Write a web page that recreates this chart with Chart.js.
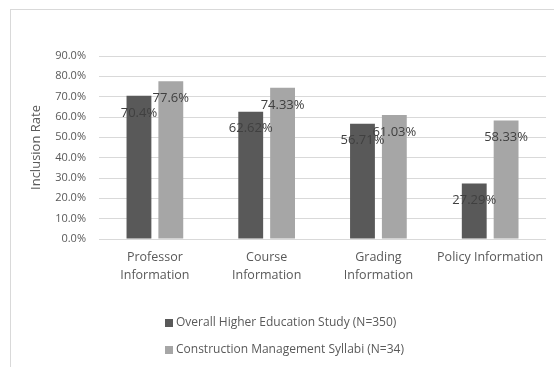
<!DOCTYPE html>
<html>
<head>
<meta charset="utf-8">
<script src="https://cdn.jsdelivr.net/npm/chart.js@4"></script>
<style>
  html, body { margin: 0; padding: 0; background: #fff; }
  #wrap { width: 554px; height: 367px; position: relative; }
</style>
</head>
<body>
<div id="wrap"><canvas id="rateChart"></canvas></div>
<script>
const categories = [['Professor', 'Information'], ['Course', 'Information'], ['Grading', 'Information'], 'Policy Information'];
const overallLabel = 'Overall Higher Education Study (N=350)';
const syllabiLabel = 'Construction Management Syllabi (N=34)';
const overallRates = [70.4, 62.62, 56.71, 27.29];
const syllabiRates = [77.6, 74.33, 61.03, 58.33];
const yTicks = [0, 10, 20, 30, 40, 50, 60, 70, 80, 90];

const FONT = "'Open Sans', 'DejaVu Sans', sans-serif";
const TEXT = '#595959';

// frame around the chart (only top/left edges show in the picture)
const framePlugin = {
    id: 'frame',
    beforeDraw(chart) {
        const ctx = chart.ctx;
        ctx.save();
        ctx.fillStyle = '#fff';
        ctx.fillRect(0, 0, chart.width, chart.height);
        ctx.strokeStyle = '#d9d9d9';
        ctx.lineWidth = 1;
        ctx.strokeRect(10.5, 9.5, 600, 400);
        ctx.restore();
    }
};

// value labels, a bit below the bar top
const valueLabels = {
    id: 'valueLabels',
    afterDatasetsDraw(chart) {
        const ctx = chart.ctx;
        ctx.save();
        ctx.font = '13px ' + FONT;
        ctx.fillStyle = '#404040';
        ctx.textAlign = 'center';
        ctx.textBaseline = 'middle';
        chart.data.datasets.forEach((ds, i) => {
            chart.getDatasetMeta(i).data.forEach((bar, j) => {
                ctx.fillText(String(ds.data[j]) + '%', bar.x, bar.y + 17);
            });
        });
        ctx.restore();
    }
};

// legend: one entry per row, left aligned
const stackedLegend = {
    id: 'stackedLegend',
    afterDraw(chart) {
        const ctx = chart.ctx;
        ctx.save();
        ctx.font = '12px ' + FONT;
        ctx.textBaseline = 'middle';
        ctx.textAlign = 'left';
        const rows = [323, 350];
        chart.data.datasets.forEach((ds, i) => {
            const y = rows[i];
            ctx.fillStyle = ds.backgroundColor;
            ctx.fillRect(165, y - 4, 8, 8);
            ctx.fillStyle = TEXT;
            ctx.fillText(ds.label, 176, y);
        });
        ctx.restore();
    }
};

new Chart(document.getElementById('rateChart'), {
    type: 'bar',
    data: {
        labels: categories,
        datasets: [
            { label: overallLabel, data: overallRates, backgroundColor: '#595959' },
            { label: syllabiLabel, data: syllabiRates, backgroundColor: '#a6a6a6' }
        ]
    },
    options: {
        responsive: true, maintainAspectRatio: false, animation: false,
        categoryPercentage: 0.57, barPercentage: 0.78,
        layout: { padding: { top: 56, right: 6, left: 0, bottom: 0 } },
        plugins: { legend: { display: false }, tooltip: { enabled: false } },
        scales: {
            x: {
                grid: { display: false, drawTicks: false },
                border: { display: false },
                ticks: { color: TEXT, font: { family: FONT, size: 12.5, lineHeight: 1.4 }, padding: 10, maxRotation: 0, autoSkip: false },
                afterFit: scale => { scale.height = 128; }
            },
            y: {
                min: 0, max: 90,
                afterBuildTicks: scale => { scale.ticks = yTicks.map(v => ({ value: v })); },
                grid: { color: '#d9d9d9', drawTicks: false },
                border: { display: false },
                ticks: { color: TEXT, font: { family: FONT, size: 11 }, padding: 13, callback: v => v.toFixed(1) + '%' },
                title: { display: true, text: 'Inclusion Rate', color: TEXT, font: { family: FONT, size: 13 }, padding: { top: 28, bottom: 0 } },
                afterFit: scale => { scale.width = 99; }
            }
        }
    },
    plugins: [framePlugin, valueLabels, stackedLegend]
});
</script>
</body>
</html>
